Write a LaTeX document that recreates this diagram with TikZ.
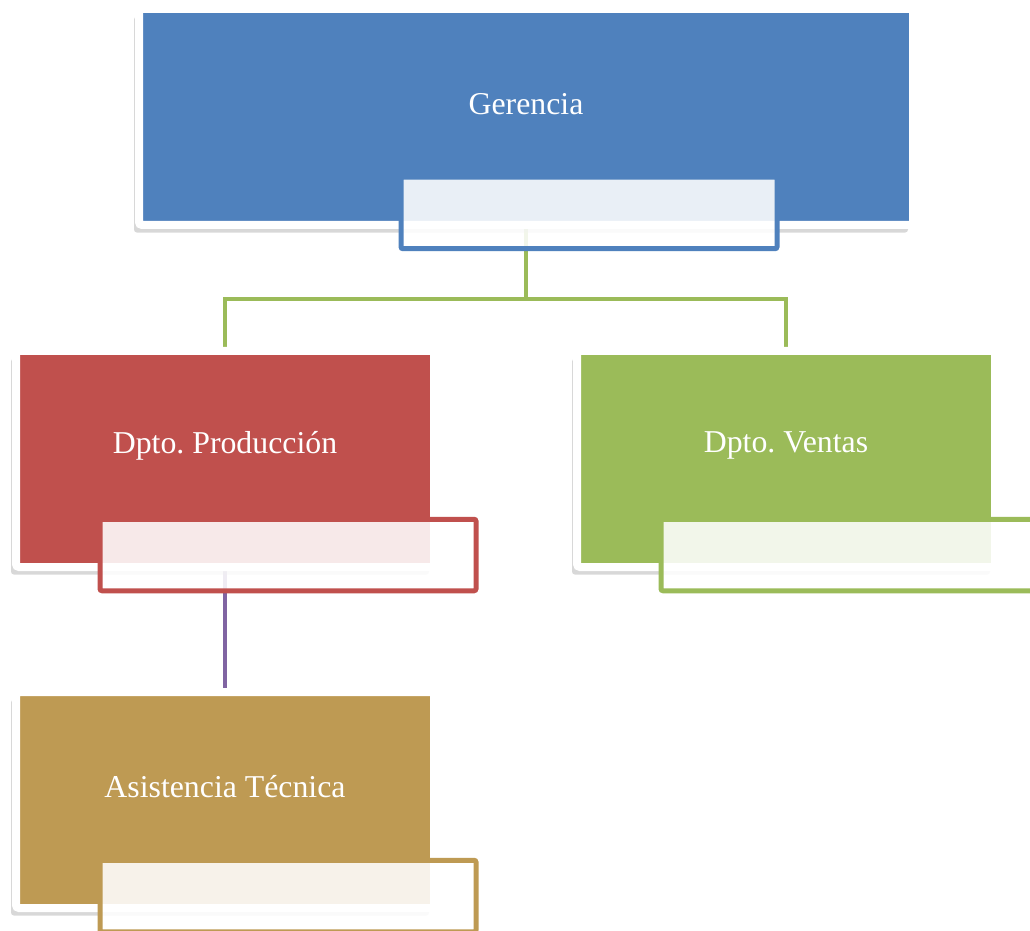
\documentclass[tikz,border=0pt]{standalone}
\usepackage{fontspec}
\setmainfont{Liberation Serif}
\frenchspacing
\usetikzlibrary{shadows,backgrounds}
\definecolor{azul}{HTML}{4F81BD}
\definecolor{rojo}{HTML}{C0504D}
\definecolor{verde}{HTML}{9BBB59}
\definecolor{ocre}{HTML}{BE9A53}
\definecolor{morado}{HTML}{8064A2}

\begin{document}
\begin{tikzpicture}[x=0.5pt,y=-0.5pt,
    unidad/.style={draw=white, line width=4pt, rounded corners=1.5pt, fill=#1,
      minimum width=209pt, minimum height=108pt,
      drop shadow={shadow xshift=-2.5pt, shadow yshift=-3.8pt, opacity=.3}},
    caja/.style={draw=#1, line width=2.5pt, rounded corners=1pt, fill=white,
      fill opacity=.88, draw opacity=1, minimum width=188pt, minimum height=35.75pt},
    rotulo/.style={text=white, font=\fontsize{15.9}{19}\selectfont, yshift=6.6pt},
    enlace/.style={draw=#1, line width=2pt}]
  \useasboundingbox (0,0) rectangle (1030,931);
  \clip (0,0) rectangle (1030,931);

  \node[unidad=azul, minimum width=387pt, label={[rotulo]center:Gerencia}] (ger) at (526,117) {};
  \node[unidad=rojo, label={[rotulo]center:Dpto. Producción}] (prod) at (225,459) {};
  \node[unidad=verde, label={[rotulo]center:Dpto. Ventas}] (vent) at (786,459) {};
  \node[unidad=ocre, label={[rotulo]center:Asistencia Técnica}] (asis) at (225,800) {};

  \node[caja=azul] (gerSub) at ([shift={(63,96)}]ger.center) {};
  \node[caja=rojo] (prodSub) at ([shift={(63,96)}]prod.center) {};
  \node[caja=verde] (ventSub) at ([shift={(63,96)}]vent.center) {};
  \node[caja=ocre] (asisSub) at ([shift={(63,96)}]asis.center) {};

  \begin{scope}[on background layer]
    \fill[white] (0,0) rectangle (1030,931);
    \coordinate (bus) at (526,299);
    \draw[enlace=verde] (ger.south) -- (bus) -| (prod.north);
    \draw[enlace=verde] (bus) -| (vent.north);
    \draw[enlace=morado] (prod.south) -- (asis.north);
  \end{scope}
\end{tikzpicture}
\end{document}
